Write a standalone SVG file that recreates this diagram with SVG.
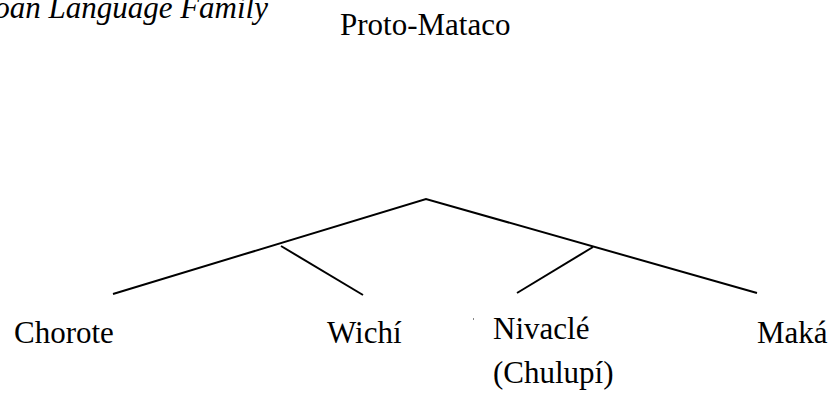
<svg xmlns="http://www.w3.org/2000/svg" width="835" height="395" viewBox="0 0 835 395">
<style>
  .t { font-family: "Liberation Serif", "Times New Roman", serif; font-size: 31px; fill: #000; }
  .ti { font-style: italic; }
  .e { stroke: #000; stroke-width: 2; fill: none; stroke-linecap: butt; }
</style>
<rect width="835" height="395" fill="#fff"/>
<text class="t ti" x="268" y="18" text-anchor="end">Matacoan Language Family</text>
<g id="proto-mataco"><text class="t" x="340" y="35">Proto-Mataco</text></g>
<g id="connectors">
  <polyline class="e" points="113,294 426,199 757,293"/>
  <line class="e" x1="281" y1="246" x2="363" y2="295"/>
  <line class="e" x1="593" y1="247" x2="517" y2="293"/>
</g>
<g id="chorote"><text class="t" x="14" y="343">Chorote</text></g>
<g id="wichi"><text class="t" x="327" y="343">Wichí</text></g>
<g id="nivacle"><text class="t" x="493" y="339">Nivaclé</text><text class="t" x="493" y="383">(Chulupí)</text></g>
<g id="maka"><text class="t" x="757" y="343">Maká</text></g>
<rect x="473" y="318" width="1" height="2" fill="#888"/>
</svg>
